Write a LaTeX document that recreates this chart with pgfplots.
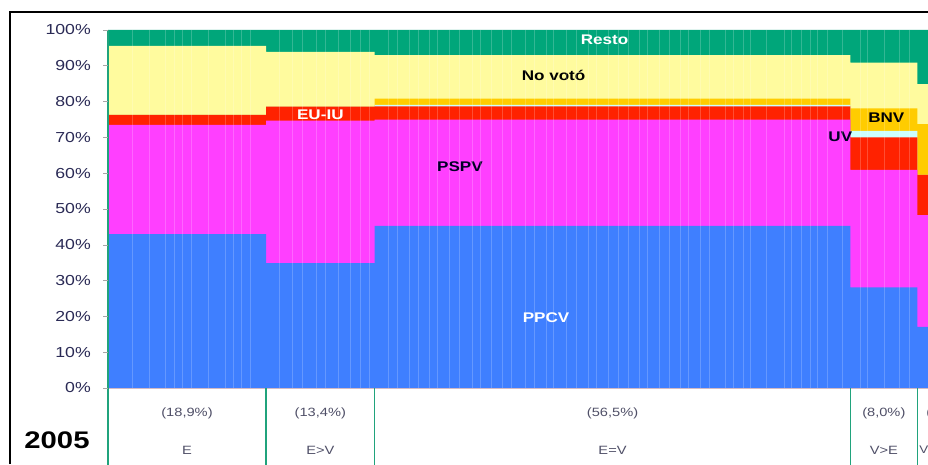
\documentclass[border=0pt]{standalone}
\usepackage{pgfplots}
\pgfplotsset{compat=1.18}
\usepackage{graphicx}
\usepackage{fontspec}
\setmainfont{Liberation Sans}
\definecolor{cPP}{HTML}{3F7FFF}
\definecolor{cPS}{HTML}{FF3FFF}
\definecolor{cEU}{HTML}{FF2200}
\definecolor{cUV}{HTML}{CCFFFF}
\definecolor{cBNV}{HTML}{FFCC00}
\definecolor{cNV}{HTML}{FFFB9E}
\definecolor{cRe}{HTML}{00A67A}
\definecolor{sepgreen}{HTML}{20A37C}
\definecolor{tickcol}{HTML}{2A2A55}
\definecolor{labcol}{HTML}{505068}
\newcommand{\hs}[1]{\scalebox{1.22}[1]{#1}}
\begin{document}
\begin{tikzpicture}
\path[use as bounding box] (0pt,0pt) rectangle (928pt,464pt);
\clip (0pt,0pt) rectangle (928pt,464pt);
\fill[white] (0pt,0pt) rectangle (928pt,464pt);
\draw[black, line width=1.6pt] (10pt,0pt) -- (10pt,452pt) -- (940pt,452pt);
\begin{axis}[
  at={(108pt,76pt)}, anchor=south west,
  scale only axis, width=836pt, height=358pt,
  xmin=0, xmax=100, ymin=0, ymax=100,
  clip=false,
  axis on top,
  axis line style={draw=none},
  xtick=\empty,
  ytick={0,10,...,100},
  tick align=outside,
  major tick length=5pt,
  ytick style={gray!70, line width=0.6pt},
  yticklabel={\hs{\pgfmathprintnumber[assume math mode=true]{\tick}\%}},
  yticklabel style={font=\fontsize{14.5}{16}\selectfont, text=tickcol, inner sep=0pt, xshift=-12pt},
  extra x ticks={2.95,5.0,6.9,8.0,8.9,10.0,12.0,14.1,14.95,15.9,17.0,20.5,22.0,23.3,24.9,26.0,27.6,29.0,30.2,31.3,33.5,34.6,36.0,37.1,38.5,39.4,40.8,42.0,43.6,44.5,45.9,47.2,48.3,49.9,51.0,52.4,53.3,54.8,56.0,57.5,58.4,59.9,61.0,62.3,63.6,64.5,66.0,67.2,68.5,69.4,70.9,71.9,73.8,74.8,75.96,76.8,78.8,80.9,81.8,83.0,84.0,84.9,86.0,87.9,90.0,90.8,92.9,94.7,95.9,98.4},
  extra x tick labels={},
  extra x tick style={xmajorgrids=true, major tick length=0pt, major grid style={white, opacity=0.2, line width=0.8pt}},
]
% cumulative tops, painted from the top layer down
% Resto (to 100)
\addplot[const plot, fill=cRe, draw=none] coordinates {(0,100) (18.9,100) (31.9,100) (88.8,100) (96.8,100) (100,100)} \closedcycle;
% No voto
\addplot[const plot, fill=cNV, draw=none] coordinates {(0,95.6) (18.9,93.9) (31.9,93.0) (88.8,90.9) (96.8,84.9) (100,84.9)} \closedcycle;
% BNV
\addplot[const plot, fill=cBNV, draw=none] coordinates {(0,76.3) (18.9,78.6) (31.9,80.8) (88.8,78.1) (96.8,73.7) (100,73.7)} \closedcycle;
% UV
\addplot[const plot, fill=cUV, draw=none] coordinates {(0,76.3) (18.9,78.6) (31.9,79.1) (88.8,71.8) (96.8,59.5) (100,59.5)} \closedcycle;
% EU-IU
\addplot[const plot, fill=cEU, draw=none] coordinates {(0,76.3) (18.9,78.6) (31.9,78.7) (88.8,70.0) (96.8,59.5) (100,59.5)} \closedcycle;
% PSPV
\addplot[const plot, fill=cPS, draw=none] coordinates {(0,73.5) (18.9,74.7) (31.9,75.0) (88.8,60.9) (96.8,48.3) (100,48.3)} \closedcycle;
% PPCV
\addplot[const plot, fill=cPP, draw=none] coordinates {(0,43.0) (18.9,34.9) (31.9,45.3) (88.8,28.1) (96.8,17.1) (100,17.1)} \closedcycle;

% separators
\draw[sepgreen, line width=1.5pt] (axis cs:0,100) -- (axis cs:0,0) -- ++(0pt,-80pt);
\draw[sepgreen, line width=1.5pt] (axis cs:18.9,0) -- ++(0pt,-80pt);
\draw[sepgreen, line width=1.5pt] (axis cs:31.9,0) -- ++(0pt,-80pt);
\draw[sepgreen, line width=1.5pt] (axis cs:88.8,0) -- ++(0pt,-80pt);
\draw[sepgreen, line width=1.5pt] (axis cs:96.8,0) -- ++(0pt,-80pt);
% labels in chart
\node[white, font=\fontsize{14}{15}\selectfont\bfseries, inner sep=0pt] at (axis cs:59.4,97.2) {\hs{Resto}};
\node[black, font=\fontsize{14}{15}\selectfont\bfseries, inner sep=0pt] at (axis cs:53.3,87.4) {\hs{No votó}};
\node[white, font=\fontsize{14}{15}\selectfont\bfseries, inner sep=0pt] at (axis cs:25.4,76.3) {\hs{EU-IU}};
\node[black!85!blue, font=\fontsize{14}{15}\selectfont\bfseries, inner sep=0pt] at (axis cs:42.1,61.7) {\hs{PSPV}};
\node[white, font=\fontsize{14}{15}\selectfont\bfseries, inner sep=0pt] at (axis cs:52.4,19.6) {\hs{PPCV}};
\node[black, font=\fontsize{14}{15}\selectfont\bfseries, inner sep=0pt] at (axis cs:93.1,75.4) {\hs{BNV}};
\node[black!85!blue, font=\fontsize{14}{15}\selectfont\bfseries, inner sep=0pt] at (axis cs:87.6,70.1) {\hs{UV}};
% category labels
\node[font=\fontsize{12}{14}\selectfont, text=labcol, inner sep=0pt] at ([yshift=-25pt]axis cs:9.45,0) {\hs{(18,9\%)}};
\node[font=\fontsize{12}{14}\selectfont, text=labcol, inner sep=0pt] at ([yshift=-62pt]axis cs:9.45,0) {\hs{E}};
\node[font=\fontsize{12}{14}\selectfont, text=labcol, inner sep=0pt] at ([yshift=-25pt]axis cs:25.4,0) {\hs{(13,4\%)}};
\node[font=\fontsize{12}{14}\selectfont, text=labcol, inner sep=0pt] at ([yshift=-62pt]axis cs:25.4,0) {\hs{E>V}};
\node[font=\fontsize{12}{14}\selectfont, text=labcol, inner sep=0pt] at ([yshift=-25pt]axis cs:60.35,0) {\hs{(56,5\%)}};
\node[font=\fontsize{12}{14}\selectfont, text=labcol, inner sep=0pt] at ([yshift=-62pt]axis cs:60.35,0) {\hs{E=V}};
\node[font=\fontsize{12}{14}\selectfont, text=labcol, inner sep=0pt] at ([yshift=-25pt]axis cs:92.8,0) {\hs{(8,0\%)}};
\node[font=\fontsize{12}{14}\selectfont, text=labcol, inner sep=0pt] at ([yshift=-62pt]axis cs:92.8,0) {\hs{V>E}};
\node[anchor=west, font=\fontsize{12}{14}\selectfont, text=labcol, inner sep=0pt] at ([yshift=-25pt, xshift=9pt]axis cs:96.8,0) {\hs{(3,2\%)}};
\node[anchor=west, font=\fontsize{11}{13}\selectfont, text=labcol, inner sep=0pt] at ([yshift=-62pt, xshift=2pt]axis cs:96.8,0) {\hs{V}};
\end{axis}
\node[font=\fontsize{24}{26}\selectfont\bfseries] at (57pt,24pt) {\hs{2005}};
\end{tikzpicture}
\end{document}
